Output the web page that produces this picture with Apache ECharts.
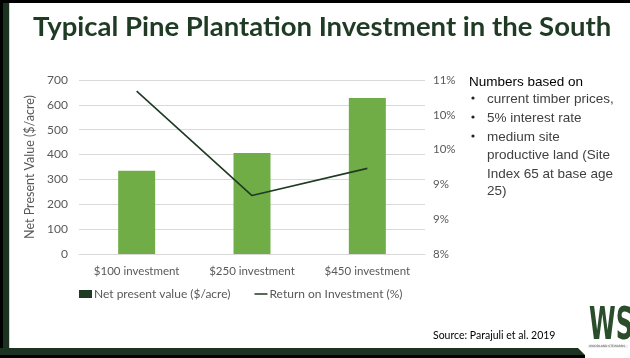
<!DOCTYPE html>
<html>
<head>
<meta charset="utf-8">
<script src="https://cdn.jsdelivr.net/npm/echarts@6/dist/echarts.min.js"></script>
<style>
html,body{margin:0;padding:0;background:#fff;}
#chart{width:630px;height:358px;}
</style>
</head>
<body>
<div id="chart"></div>
<script>
const categories = ['$100 investment', '$250 investment', '$450 investment'];
const npvValues = [335, 406, 628];
const roiValues = [10.34, 8.84, 9.23];
const leftTicks = {min: 0, max: 700, interval: 100};
const rightTicks = {min: 8, max: 10.5, interval: 0.5};
const seriesNames = ['Net present value ($/acre)', 'Return on Investment (%)'];
const titleText = 'Typical Pine Plantation Investment in the South';
const notesHeader = 'Numbers based on';
const notesLines = [
  {bullet: true, text: 'current timber prices,'},
  {bullet: true, text: '5% interest rate'},
  {bullet: true, text: 'medium site'},
  {bullet: false, text: 'productive land (Site'},
  {bullet: false, text: 'Index 65 at base age'},
  {bullet: false, text: '25)'}
];
const sourceText = 'Source: Parajuli et al. 2019';

const axisGray = '#595959';
const darkGreen = '#1f3b24';
const barGreen = '#70ad47';

const chart = echarts.init(document.getElementById('chart'), null, {renderer: 'canvas'});

const noteYs = [101, 120, 139, 157, 176, 193];
const graphics = [
  // frame
  {type: 'rect', shape: {x: 0, y: 0, width: 630, height: 3}, style: {fill: '#000'}, silent: true},
  {type: 'rect', shape: {x: 0, y: 0, width: 3, height: 358}, style: {fill: '#000'}, silent: true},
  {type: 'rect', shape: {x: 3, y: 3, width: 6, height: 352}, style: {fill: '#1d3322'}, silent: true},
  {type: 'rect', shape: {x: 9, y: 3, width: 1, height: 345}, style: {fill: '#cfd8cf'}, silent: true},
  {type: 'polygon', shape: {points: [[0, 348], [578, 348], [585, 355], [0, 355]]}, style: {fill: '#1d3322'}, silent: true},
  {type: 'rect', shape: {x: 0, y: 355, width: 585, height: 3}, style: {fill: '#000'}, silent: true},
  // title
  {type: 'text', left: 33, top: 13, style: {text: titleText, font: 'bold 27.5px Lato', fill: darkGreen}, silent: true},
  // notes
  {type: 'text', left: 469, top: 75, style: {text: notesHeader, font: '13.5px "Liberation Sans"', fill: '#000'}, silent: true},
  // source
  {type: 'text', left: 433, top: 330, style: {text: sourceText, font: '10.5px Lato', fill: '#000'}, silent: true},
  // logo
  {type: 'text', x: 589, y: 306, scaleX: 0.55, style: {text: 'WS', font: 'bold 44px "DejaVu Sans"', fill: '#2b4d2c', textVerticalAlign: 'top'}, silent: true},
  {type: 'rect', shape: {x: 588, y: 345, width: 40, height: 3}, style: {fill: '#eef0ee'}, silent: true},
  {type: 'text', left: 589, top: 345, style: {text: 'WOODLAND STEWARDS', font: '3px "DejaVu Sans"', fill: '#555'}, silent: true}
];
notesLines.forEach((ln, i) => {
  if (ln.bullet) {
    graphics.push({type: 'circle', shape: {cx: 473, cy: noteYs[i] - 3, r: 1.6}, style: {fill: '#222'}, silent: true});
  }
  graphics.push({type: 'text', left: 487, top: noteYs[i] - 9, style: {text: ln.text, font: '13.5px "Liberation Sans"', fill: '#404040'}, silent: true});
});

chart.setOption({
  animation: false,
  backgroundColor: '#fff',
  textStyle: {fontFamily: 'Lato'},
  grid: {left: 79, right: 205, top: 80, bottom: 104, containLabel: false},
  legend: {
    left: 74, top: 283,
    itemWidth: 13, itemHeight: 8, itemGap: 24,
    textStyle: {color: axisGray, fontSize: 12, fontFamily: 'Lato', padding: [0, 0, 0, -3]},
    data: [
      {name: seriesNames[0], icon: 'rect', itemStyle: {color: darkGreen}},
      {name: seriesNames[1], icon: 'path://M0,3.3 h13 v1.4 h-13 Z M0,0 h0.01 v8 h-0.01 Z', itemStyle: {color: darkGreen}}
    ]
  },
  xAxis: {
    type: 'category',
    data: categories,
    axisTick: {show: false},
    axisLine: {lineStyle: {color: '#d9d9d9'}},
    axisLabel: {color: axisGray, fontSize: 11.5, margin: 11, fontFamily: 'Lato', interval: 0}
  },
  yAxis: [
    {
      type: 'value', min: leftTicks.min, max: leftTicks.max, interval: leftTicks.interval,
      name: 'Net Present Value ($/acre)', nameLocation: 'middle', nameGap: 41,
      nameTextStyle: {color: axisGray, fontSize: 12.5, fontFamily: 'Lato'},
      axisLabel: {color: axisGray, fontSize: 12, margin: 11},
      splitLine: {lineStyle: {color: '#d9d9d9'}},
      axisLine: {show: false}, axisTick: {show: false}
    },
    {
      type: 'value', min: rightTicks.min, max: rightTicks.max, interval: rightTicks.interval,
      position: 'right',
      axisLabel: {color: axisGray, fontSize: 11.5, margin: 8, formatter: v => Math.round(v) + '%'},
      splitLine: {show: false}, axisLine: {show: false}, axisTick: {show: false}
    }
  ],
  series: [
    {
      name: seriesNames[0], type: 'bar', data: npvValues, yAxisIndex: 0,
      barWidth: 37, itemStyle: {color: barGreen}
    },
    {
      name: seriesNames[1], type: 'line', data: roiValues, yAxisIndex: 1,
      symbol: 'none', lineStyle: {color: darkGreen, width: 1.6}, itemStyle: {color: darkGreen}
    }
  ],
  graphic: graphics
});
</script>
</body>
</html>
